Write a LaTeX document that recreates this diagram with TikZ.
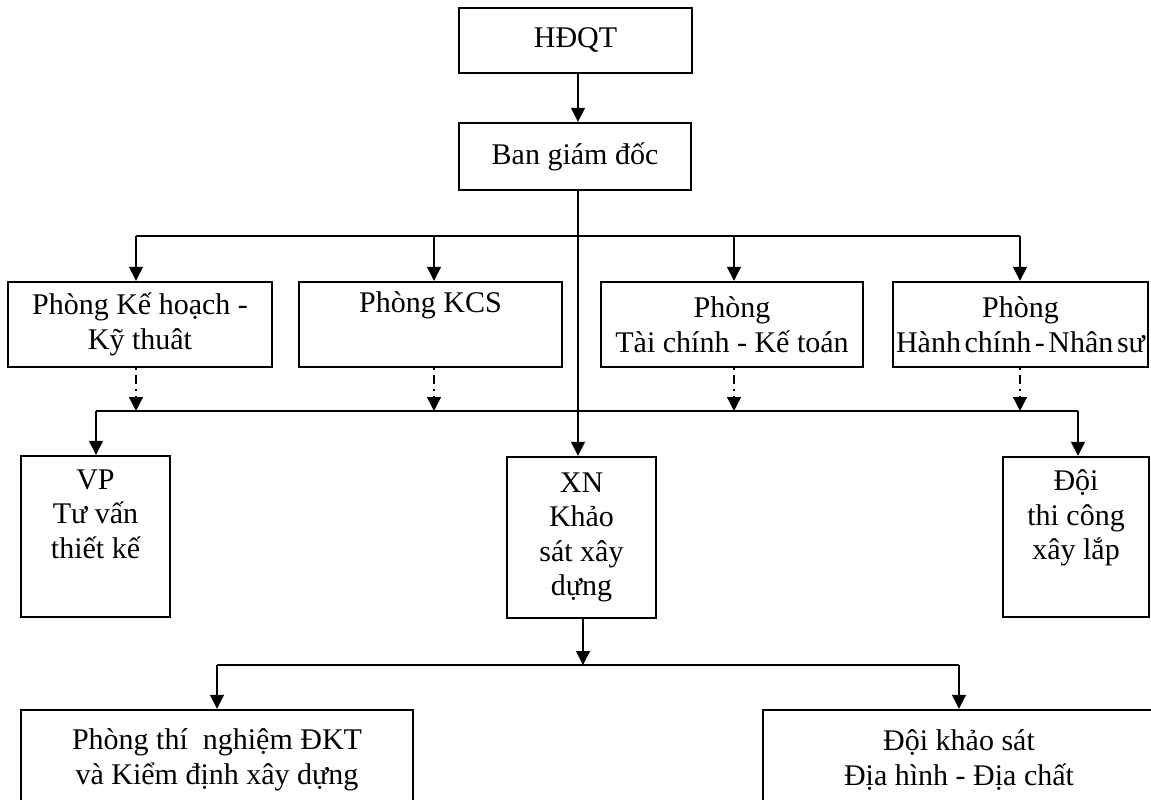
\documentclass[tikz,border=0pt]{standalone}
\usepackage{fontspec}
\setmainfont{Liberation Serif}
\usetikzlibrary{arrows.meta}
\begin{document}
\begin{tikzpicture}[x=1pt,y=-1pt,
  box/.style={draw=black, line width=2.4pt, inner sep=0pt, align=center,
    font=\fontsize{30}{34.5}\selectfont},
  arr/.style={line width=1.4pt, -{Triangle[length=14pt,width=14pt]}},
  ln/.style={line width=1.4pt},
  dsh/.style={arr, dash pattern=on 2pt off 5pt on 9pt off 5pt}]
\useasboundingbox (0,0) rectangle (1151,800);

% boxes
\node[box, minimum width=233pt, minimum height=65pt] (hdqt) at (575.5,40.5) {HĐQT};
\node[box, minimum width=232pt, minimum height=67pt] (bgd) at (575,156.5) {Ban giám đốc};

\node[box, minimum width=264pt, minimum height=85pt] (p1) at (140,324.5) {Phòng Kế hoạch -\\Kỹ thuât};
\node[box, minimum width=263pt, minimum height=85pt] (p2) at (430.5,324.5) {Phòng KCS\\ \strut};
\node[box, minimum width=262pt, minimum height=85pt] (p3) at (732,324.5) {Phòng\\Tài chính - Kế toán};
\node[box, minimum width=255pt, minimum height=85pt] (p4) at (1020.5,324.5) {Phòng\\{\spaceskip=0.12em\relax Hành chính - Nhân sư}};

\node[box, minimum width=149pt, minimum height=161pt] (vp) at (95.5,536.5) {VP\\Tư vấn\\thiết kế\\ \strut};
\node[box, minimum width=149pt, minimum height=161pt] (xn) at (581.5,537.5) {XN\\Khảo\\sát xây\\dựng};
\node[box, minimum width=146pt, minimum height=160pt] (doi) at (1076,537) {Đội\\thi công\\xây lắp\\ \strut};

\node[box, minimum width=392pt, minimum height=100pt] (ptn) at (217,760) {Phòng thí~ nghiệm ĐKT\\và Kiểm định xây dựng};
\node[box, minimum width=392pt, minimum height=100pt] (dks) at (959,760) {Đội khảo sát\\Địa hình - Địa chất};

% bus coordinates
\coordinate (t1) at (136,236);
\coordinate (t2) at (434,236);
\coordinate (t3) at (734,236);
\coordinate (t4) at (1020,236);
\coordinate (m0) at (96,411);
\coordinate (m1) at (136,411);
\coordinate (m2) at (434,411);
\coordinate (m3) at (734,411);
\coordinate (m4) at (1020,411);
\coordinate (m5) at (1078,411);
\coordinate (mx) at (578,236);
\coordinate (b0) at (583,665);
\coordinate (b1) at (217,665);
\coordinate (b2) at (959,665);

% connectors
\draw[arr] (hdqt.south -| mx) -- (bgd.north -| mx);
\draw[arr] (bgd.south -| mx) -- (xn.north -| mx);
\draw[ln] (t1) -- (t4);
\draw[arr] (t1) -- (t1 |- p1.north);
\draw[arr] (t2) -- (t2 |- p2.north);
\draw[arr] (t3) -- (t3 |- p3.north);
\draw[arr] (t4) -- (t4 |- p4.north);

\draw[dsh] (p1.south -| m1) -- (m1);
\draw[dsh] (p2.south -| m2) -- (m2);
\draw[dsh] (p3.south -| m3) -- (m3);
\draw[dsh] (p4.south -| m4) -- (m4);

\draw[ln] (m0) -- (m5);
\draw[arr] (m0) -- (m0 |- vp.north);
\draw[arr] (m5) -- (m5 |- doi.north);

\draw[arr] (xn.south -| b0) -- (b0);
\draw[ln] (b1) -- (b2);
\draw[arr] (b1) -- (b1 |- ptn.north);
\draw[arr] (b2) -- (b2 |- dks.north);
\end{tikzpicture}
\end{document}
